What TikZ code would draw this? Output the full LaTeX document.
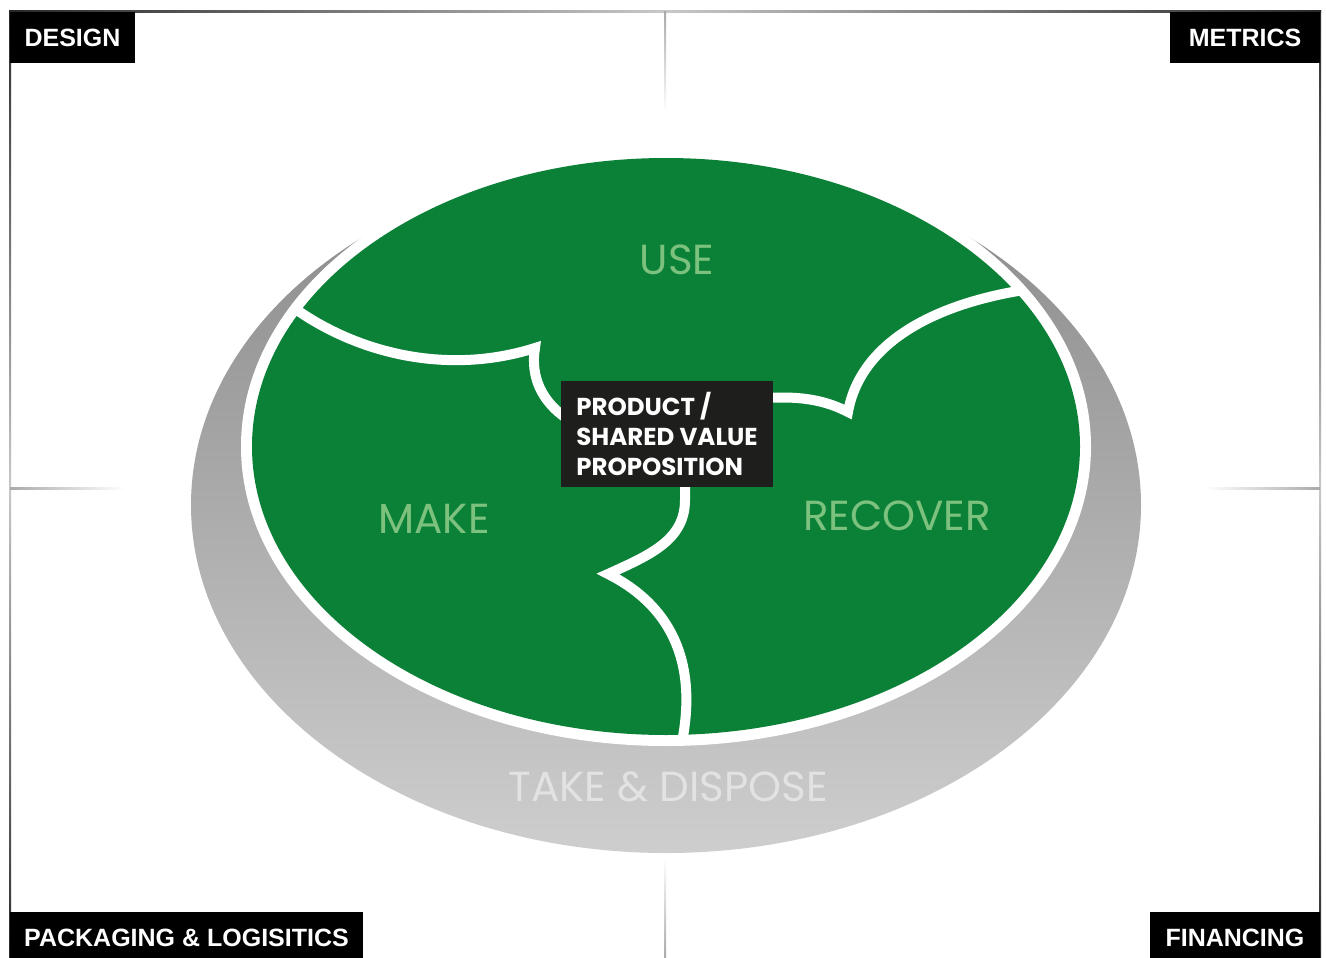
\documentclass[tikz,border=0pt]{standalone}
\usepackage{fontspec}
\setmainfont{Liberation Sans}
\newfontfamily\popfont{Poppins}
\usetikzlibrary{positioning}
\definecolor{loopgreen}{RGB}{11,129,56}
\definecolor{phasegreen}{RGB}{125,193,126}
\definecolor{coreblack}{RGB}{30,30,28}
\definecolor{shadowtop}{RGB}{136,136,136}
\definecolor{shadowmid}{RGB}{158,158,158}
\definecolor{shadowbot}{RGB}{206,206,206}
\definecolor{disposegray}{RGB}{226,226,226}
\definecolor{framedark}{RGB}{40,40,40}
\definecolor{framelight}{RGB}{200,200,200}
\definecolor{crossgray}{RGB}{170,170,170}

\begin{document}
\begin{tikzpicture}[x=1pt, y=-1pt,
  cornerlabel/.style={fill=black, text=white, font=\bfseries\fontsize{25}{25}\selectfont, inner sep=0pt, minimum height=51pt},
  phase/.style={text=phasegreen, font=\popfont\fontsize{42}{42}\selectfont},
  divider/.style={draw=white, line width=10pt, line join=miter}]
  \useasboundingbox (0,0) rectangle (1326,958);
  \fill[white] (0,0) rectangle (1326,958);
  \shade[left color=framedark, right color=framelight] (9,11) rectangle (665,13);
  \shade[left color=framelight, right color=framedark] (665,11) rectangle (1321,13);
  \shade[top color=framedark, bottom color=framelight] (9,11) rectangle (11,488);
  \shade[top color=framelight, bottom color=framedark] (9,488) rectangle (11,958);
  \shade[top color=framedark, bottom color=framelight] (1319,11) rectangle (1321,488);
  \shade[top color=framelight, bottom color=framedark] (1319,488) rectangle (1321,958);
  \shade[top color=crossgray, bottom color=white] (664,12) rectangle (666,112);
  \shade[top color=white, bottom color=crossgray] (664,858) rectangle (666,958);
  \shade[left color=crossgray, right color=white] (10,487) rectangle (125,489);
  \shade[left color=white, right color=crossgray] (1205,487) rectangle (1320,489);
  \shade[top color=shadowtop, middle color=shadowmid, bottom color=shadowbot] (666,505) ellipse [x radius=475, y radius=348];
  \fill[white] (666,446.5) ellipse [x radius=425, y radius=299.5];
  \fill[loopgreen] (666,446.5) ellipse [x radius=414, y radius=288.5];
  \draw[divider] (294,308) .. controls (360,355) and (450,375) .. (535,348) .. controls (530,378) and (543,402) .. (566,418);
  \draw[divider] (1024,290) .. controls (930,305) and (860,345) .. (848,412) .. controls (825,400) and (800,396) .. (768,398);
  \draw[divider] (685,480) -- (685,500) .. controls (685,540) and (650,555) .. (608,574) .. controls (660,600) and (700,650) .. (682,742);
  \node[fill=coreblack, text=white, font=\popfont\bfseries\fontsize{24.5}{30}\selectfont, align=left, minimum width=212pt, minimum height=106pt] (core) at (667,434) {PRODUCT /\\SHARED VALUE\\PROPOSITION};
  \node[phase] (use) at (677,260) {USE};
  \node[phase] (make) at (434,519) {MAKE};
  \node[phase] (recover) at (897,516) {RECOVER};
  \node[phase, text=disposegray] (dispose) at (668,787) {TAKE \& DISPOSE};
  \node[cornerlabel, minimum width=125pt] (design) at (72.5,37.5) {DESIGN};
  \node[cornerlabel, minimum width=150pt] (metrics) at (1245,37.5) {METRICS};
  \node[cornerlabel, minimum width=353pt] (packaging) at (186.5,937.5) {PACKAGING \& LOGISITICS};
  \node[cornerlabel, minimum width=170pt] (financing) at (1235,937.5) {FINANCING};
\end{tikzpicture}
\end{document}
